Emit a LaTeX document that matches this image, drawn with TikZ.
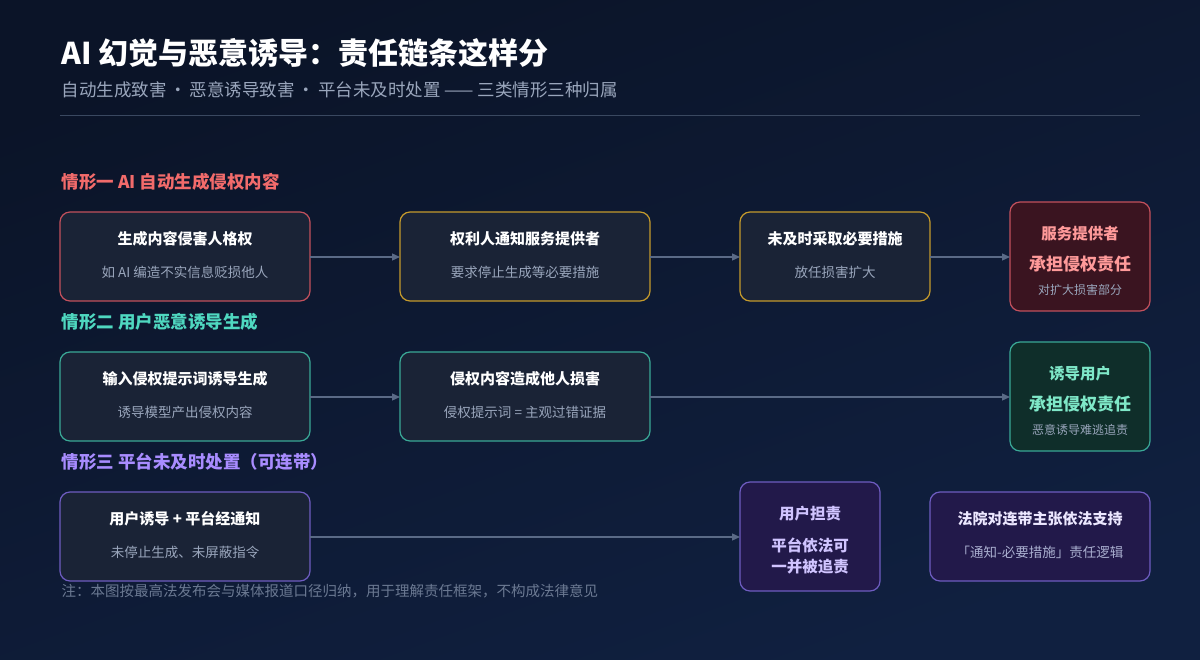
\documentclass[tikz,border=0pt]{standalone}
\usepackage{fontspec}
\setmainfont{Noto Sans CJK SC}
\usetikzlibrary{arrows.meta}
\definecolor{bgA}{HTML}{0B1428}\definecolor{bgB}{HTML}{102040}
\definecolor{boxf}{HTML}{1A2336}
\definecolor{cred}{HTML}{C2505C}\definecolor{cyel}{HTML}{C49A2C}
\definecolor{cteal}{HTML}{3AA896}\definecolor{cpur}{HTML}{6E5CC0}
\definecolor{fred}{HTML}{3A1420}\definecolor{fgrn}{HTML}{0F2E2A}\definecolor{fpur}{HTML}{22194A}
\definecolor{tred}{HTML}{FF9A9A}\definecolor{tgrn}{HTML}{7FE8C8}\definecolor{tpur}{HTML}{D0C4FF}
\definecolor{lred}{HTML}{F26B6B}\definecolor{lteal}{HTML}{4FD8C0}\definecolor{lpur}{HTML}{A88CFF}
\definecolor{sub}{HTML}{9AA6BC}\definecolor{arr}{HTML}{5A6A86}
\begin{document}
\begin{tikzpicture}[x=1pt,y=-1pt,
 bx/.style={draw,line width=1.2pt,rounded corners=10pt,fill=boxf},
 t1/.style={font=\bfseries\fontsize{15}{17}\selectfont,text=white},
 t2/.style={font=\fontsize{13.5}{15}\selectfont,text=sub},
 lab/.style={anchor=west,font=\bfseries\fontsize{17.5}{20}\selectfont},
 ar/.style={draw=arr,line width=1.3pt,-{Triangle[length=8pt,width=7pt]}}]
\shade[top color=bgA,bottom color=bgB,shading angle=20] (0,0) rectangle (1200,660);
\useasboundingbox (0,0) rectangle (1200,660);
\node[anchor=west,font=\bfseries\fontsize{30}{33}\selectfont,text=white] (title) at (58,53) {AI 幻觉与恶意诱导：责任链条这样分};
\node[anchor=west,font=\fontsize{17.5}{20}\selectfont,text=sub] (subt) at (58,90) {自动生成致害\,·\,恶意诱导致害\,·\,平台未及时处置 —— 三类情形三种归属};
\draw[draw=arr!60!bgA,line width=1pt] (60,116) -- (1140,116);
% row 1
\node[lab,text=lred] (l1) at (58,182) {情形一 AI 自动生成侵权内容};
\draw[bx,draw=cred] (60,212) rectangle (310,301);
\node[t1] (a1) at (185,239) {生成内容侵害人格权};
\node[t2] (a1s) at (185,272) {如 AI 编造不实信息贬损他人};
\coordinate (A1) at (310,257);
\draw[bx,draw=cyel] (400,212) rectangle (650,301);
\node[t1] (a2) at (525,239) {权利人通知服务提供者};
\node[t2] at (525,272) {要求停止生成等必要措施};
\coordinate (A2l) at (400,257);\coordinate (A2r) at (650,257);
\draw[bx,draw=cyel] (740,212) rectangle (930,301);
\node[t1] at (835,239) {未及时采取必要措施};
\node[t2] at (835,272) {放任损害扩大};
\coordinate (A3l) at (740,257);\coordinate (A3r) at (930,257);
\draw[bx,draw=cred,fill=fred] (1010,202) rectangle (1150,311);
\node[t1,text=tred,font=\bfseries\fontsize{15.5}{17}\selectfont] at (1080,234) {服务提供者};
\node[t1,text=tred,font=\bfseries\fontsize{17}{19}\selectfont] at (1080,264) {承担侵权责任};
\node[t2,text=sub,font=\fontsize{12}{13}\selectfont] at (1080,290) {对扩大损害部分};
\coordinate (A4l) at (1010,257);
\draw[ar] (A1) -- (A2l);\draw[ar] (A2r) -- (A3l);\draw[ar] (A3r) -- (A4l);
% row 2
\node[lab,text=lteal] (l2) at (58,322) {情形二 用户恶意诱导生成};
\draw[bx,draw=cteal] (60,352) rectangle (310,441);
\node[t1] at (185,379) {输入侵权提示词诱导生成};
\node[t2] at (185,412) {诱导模型产出侵权内容};
\coordinate (B1) at (310,397);
\draw[bx,draw=cteal] (400,352) rectangle (650,441);
\node[t1] at (525,379) {侵权内容造成他人损害};
\node[t2] at (525,412) {侵权提示词 = 主观过错证据};
\coordinate (B2l) at (400,397);\coordinate (B2r) at (650,397);
\draw[bx,draw=cteal,fill=fgrn] (1010,342) rectangle (1150,451);
\node[t1,text=tgrn,font=\bfseries\fontsize{15.5}{17}\selectfont] at (1080,374) {诱导用户};
\node[t1,text=tgrn,font=\bfseries\fontsize{17}{19}\selectfont] at (1080,404) {承担侵权责任};
\node[t2,font=\fontsize{12}{13}\selectfont] at (1080,430) {恶意诱导难逃追责};
\coordinate (B3l) at (1010,397);
\draw[ar] (B1) -- (B2l);\draw[ar] (B2r) -- (B3l);
% row 3
\node[lab,text=lpur] (l3) at (58,462) {情形三 平台未及时处置（可连带）};
\draw[bx,draw=cpur] (60,492) rectangle (310,581);
\node[t1] at (185,519) {用户诱导 + 平台经通知};
\node[t2] at (185,552) {未停止生成、未屏蔽指令};
\coordinate (C1) at (310,537);
\draw[bx,draw=cpur,fill=fpur] (740,482) rectangle (880,591);
\node[t1,text=tpur,font=\bfseries\fontsize{15.5}{17}\selectfont] at (810,514) {用户担责};
\node[t1,text=tpur,font=\bfseries\fontsize{15.5}{21}\selectfont,align=center] at (810,556) {平台依法可\\一并被追责};
\coordinate (C2l) at (740,537);
\draw[ar] (C1) -- (C2l);
\draw[bx,draw=cpur,fill=fpur] (930,492) rectangle (1150,581);
\node[t1,text=tpur!40!white] at (1040,519) {法院对连带主张依法支持};
\node[t2,text=sub!70!tpur] at (1040,552) {「通知-必要措施」责任逻辑};
\node[anchor=west,font=\fontsize{14.5}{16}\selectfont,text=arr!90!white] (note) at (58,591) {注：本图按最高法发布会与媒体报道口径归纳，用于理解责任框架，不构成法律意见};
\end{tikzpicture}
\end{document}
